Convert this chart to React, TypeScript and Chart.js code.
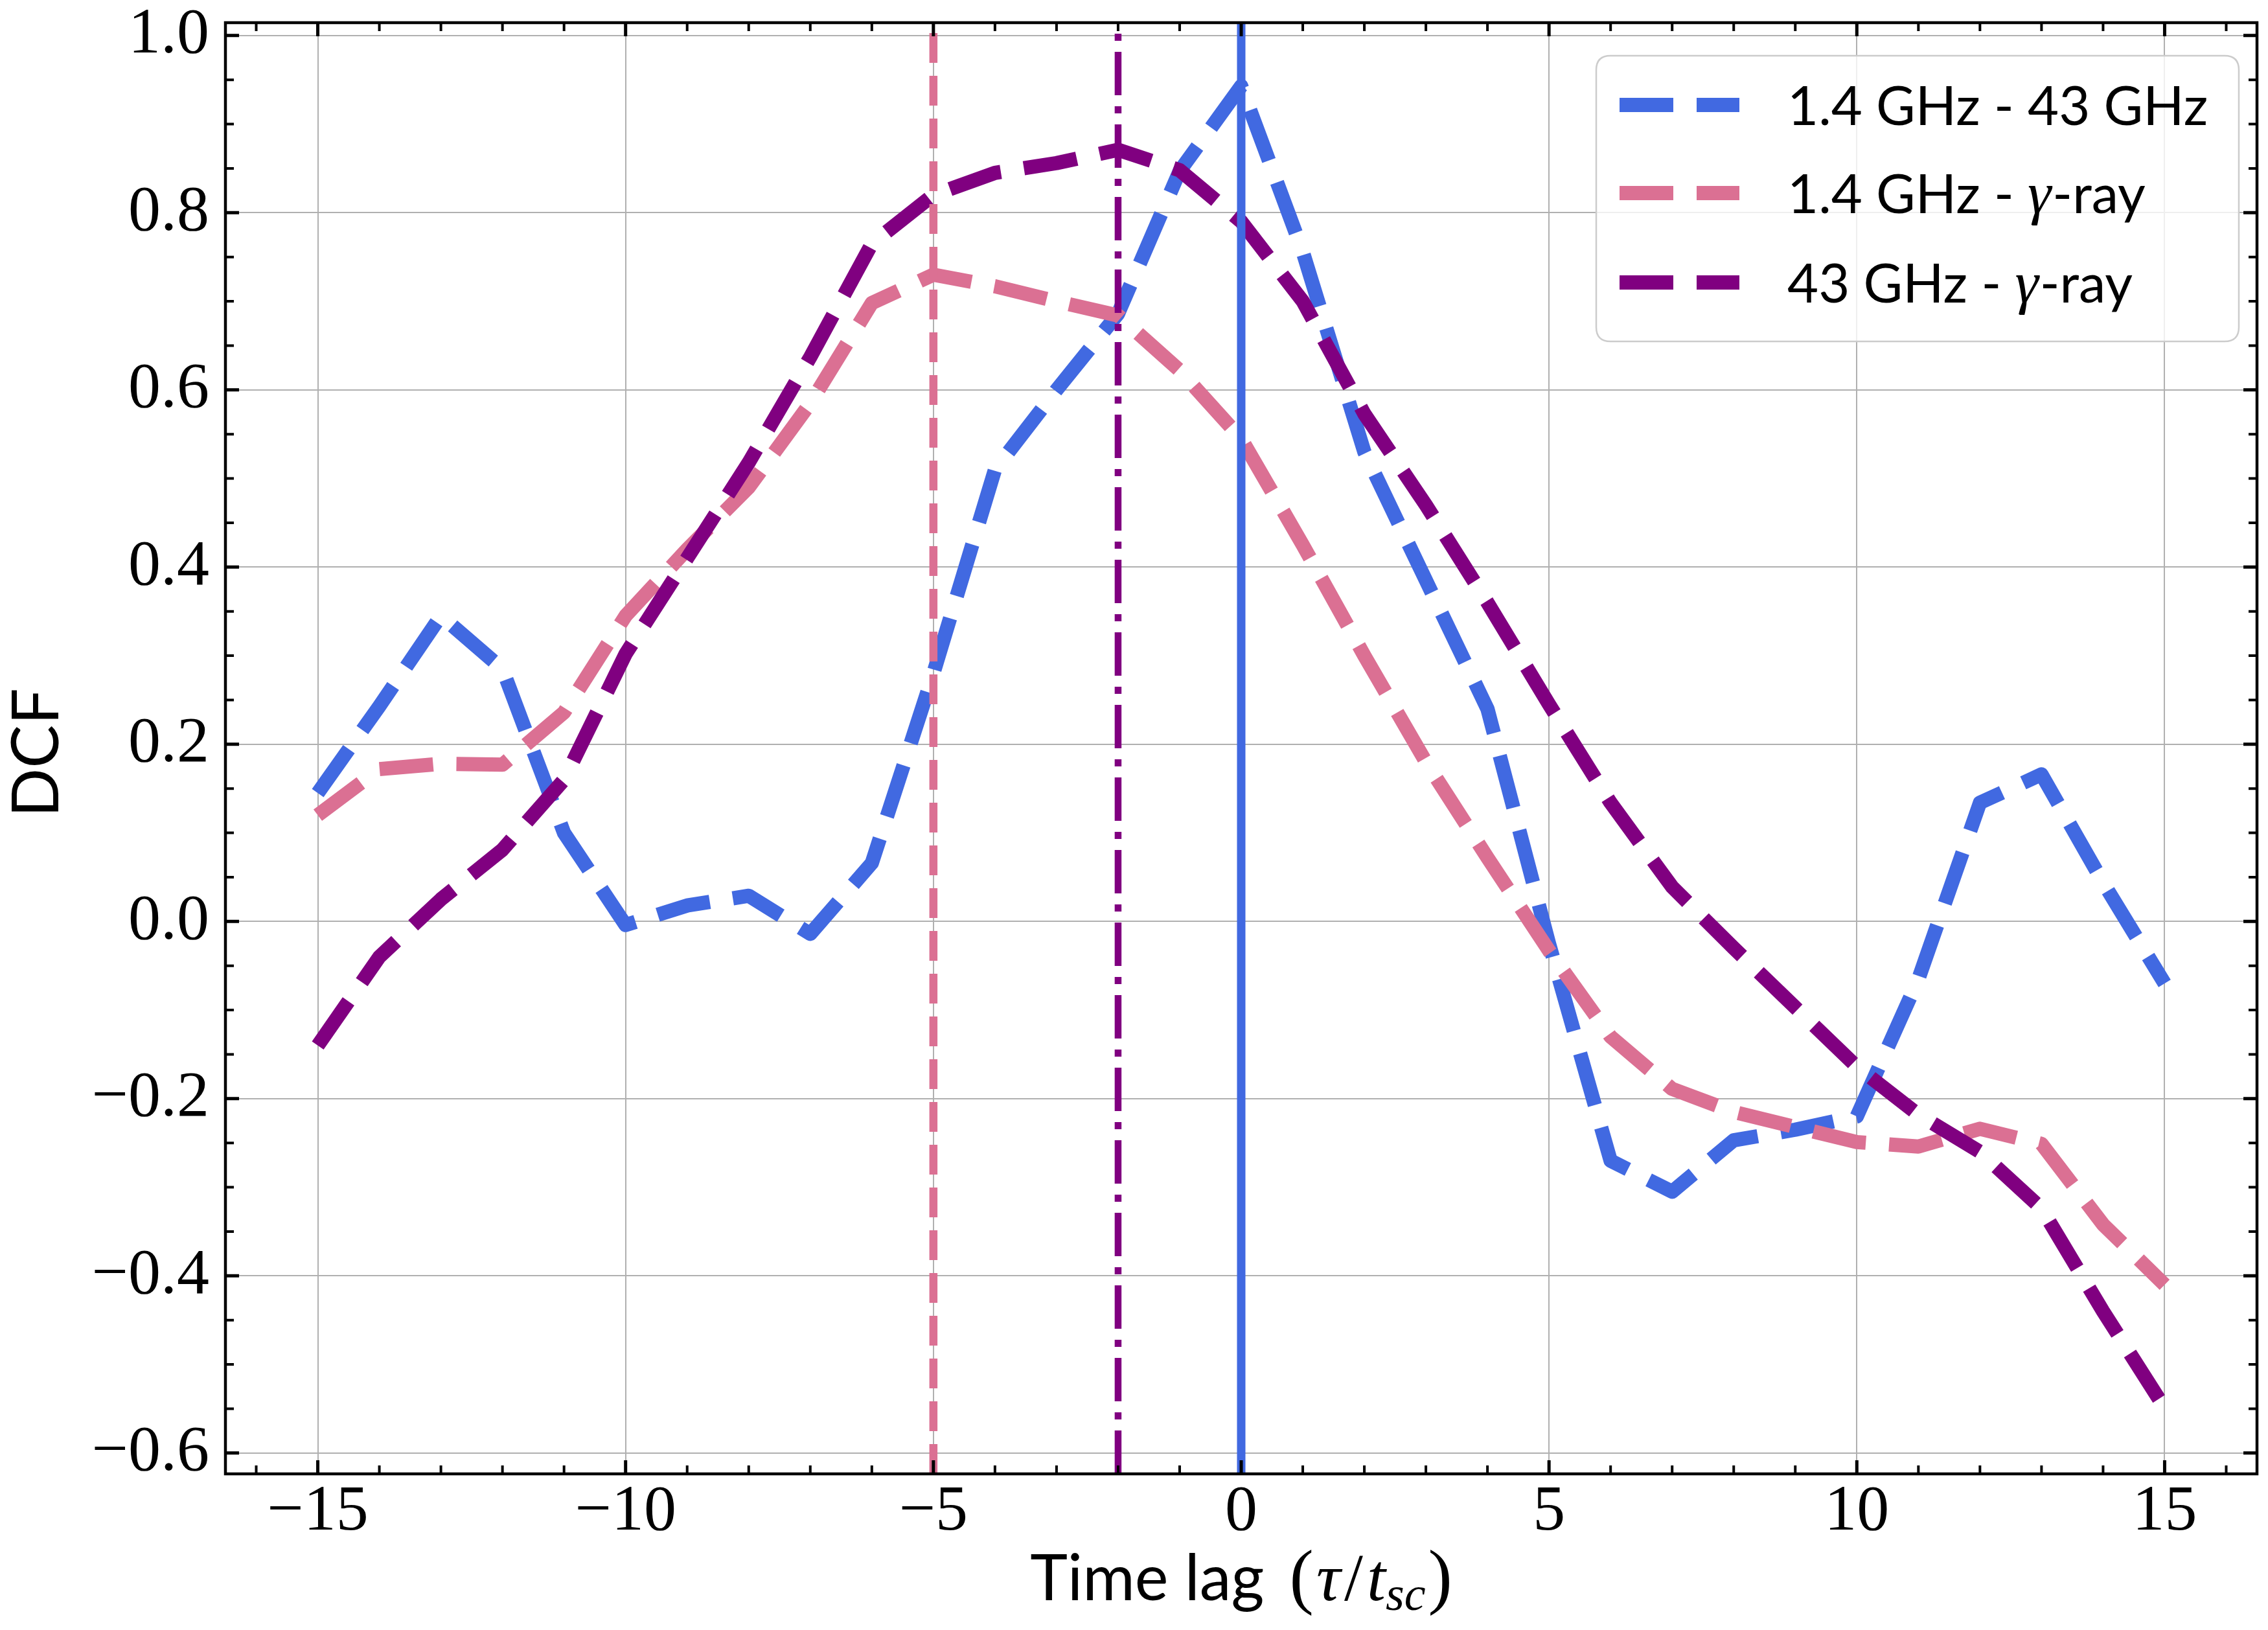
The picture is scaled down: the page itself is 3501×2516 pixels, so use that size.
import React, { useEffect, useRef } from 'react';
import { Chart, registerables } from 'chart.js';

Chart.register(...registerables);

// ---------------- data ----------------
const LAGS = [-15, -14, -13, -12, -11, -10, -9, -8, -7, -6, -5, -4, -3, -2, -1, 0, 1, 2, 3, 4, 5, 6, 7, 8, 9, 10, 11, 12, 13, 14, 15];

const DCF_14_43 = [0.145, 0.243, 0.345, 0.285, 0.10, -0.004, 0.018, 0.029, -0.014, 0.066, 0.28, 0.51, 0.60, 0.686, 0.847, 0.943, 0.756, 0.53, 0.385, 0.24, -0.025, -0.27, -0.305, -0.247, -0.235, -0.22, -0.065, 0.134, 0.166, 0.044, -0.07];

const DCF_14_GAMMA = [0.12, 0.172, 0.178, 0.177, 0.236, 0.345, 0.42, 0.49, 0.585, 0.698, 0.73, 0.717, 0.70, 0.684, 0.622, 0.545, 0.425, 0.30, 0.18, 0.072, -0.033, -0.13, -0.189, -0.215, -0.232, -0.249, -0.254, -0.234, -0.251, -0.342, -0.41];

const DCF_43_GAMMA = [-0.14, -0.04, 0.025, 0.081, 0.16, 0.302, 0.41, 0.518, 0.637, 0.765, 0.82, 0.845, 0.856, 0.871, 0.848, 0.79, 0.70, 0.573, 0.47, 0.36, 0.245, 0.134, 0.039, -0.03, -0.097, -0.164, -0.218, -0.26, -0.324, -0.44, -0.549];

const SERIES_LABELS = ['1.4 GHz - 43 GHz', '1.4 GHz - γ-ray', '43 GHz - γ-ray'];
const SERIES_COLORS = ['#4169E1', '#DB7093', '#800080'];
// lag of the marked DCF peak for each pair (vertical lines)
const PEAK_LAGS = [0, -5, -2];

const X_TICKS = [-15, -10, -5, 0, 5, 10, 15];
const Y_TICKS = [-0.6, -0.4, -0.2, 0.0, 0.2, 0.4, 0.6, 0.8, 1.0];
const X_LIMITS = [-16.5, 16.5];
const Y_LIMITS = [-0.6235, 1.0145];
const X_TITLE = 'Time lag';
const Y_TITLE = 'DCF';

// ---------------- layout / style ----------------
const W = 3501;
const H = 2516;
const AREA = { left: 348, top: 35, right: 3484, bottom: 2275 };
const SANS = 'Lato, "Open Sans", sans-serif';
const SERIF = '"Liberation Serif", "DejaVu Serif", serif';

function fmt(v: number, digits: number) {
  const s = Math.abs(v).toFixed(digits);
  return (v < -1e-9 ? '\u2212' : '') + s;
}

const framePlugin = {
  id: 'mplFrame',
  afterDraw(chart: any) {
    const { ctx, chartArea: a } = chart;
    const xs = chart.scales.x;
    const ys = chart.scales.y;
    ctx.save();
    ctx.strokeStyle = '#000';
    ctx.lineCap = 'butt';

    // x ticks (inward, bottom + top)
    for (let v = Math.ceil(X_LIMITS[0]); v <= Math.floor(X_LIMITS[1]); v++) {
      const major = X_TICKS.includes(v);
      const len = major ? 21 : 13;
      ctx.lineWidth = major ? 5 : 4;
      const px = xs.getPixelForValue(v);
      ctx.beginPath();
      ctx.moveTo(px, a.bottom);
      ctx.lineTo(px, a.bottom - len);
      ctx.moveTo(px, a.top);
      ctx.lineTo(px, a.top + len);
      ctx.stroke();
    }
    // y ticks (inward, left + right)
    for (let k = Math.ceil(Y_LIMITS[0] / 0.05); k <= Math.floor(Y_LIMITS[1] / 0.05); k++) {
      const v = k * 0.05;
      const major = k % 4 === 0;
      const len = major ? 21 : 13;
      ctx.lineWidth = major ? 5 : 4;
      const py = ys.getPixelForValue(v);
      ctx.beginPath();
      ctx.moveTo(a.left, py);
      ctx.lineTo(a.left + len, py);
      ctx.moveTo(a.right, py);
      ctx.lineTo(a.right - len, py);
      ctx.stroke();
    }
    // spines
    ctx.lineWidth = 4.5;
    ctx.strokeRect(a.left, a.top, a.right - a.left, a.bottom - a.top);

    // x title with mixed fonts
    ctx.fillStyle = '#000';
    ctx.textBaseline = 'alphabetic';
    ctx.textAlign = 'left';
    const pieces = [
      { t: X_TITLE + ' ', f: `98px ${SANS}`, dy: 0, gap: 14 },
      { t: '(', f: `112px ${SERIF}`, dy: 0, gap: 4 },
      { t: 'τ', f: `italic 104px ${SERIF}`, dy: 0, gap: 6 },
      { t: '/', f: `104px ${SERIF}`, dy: 0, gap: 6 },
      { t: 't', f: `italic 104px ${SERIF}`, dy: 0, gap: 0 },
      { t: 'sc', f: `italic 74px ${SERIF}`, dy: 15, gap: 4 },
      { t: ')', f: `112px ${SERIF}`, dy: 0, gap: 0 },
    ];
    let total = 0;
    for (const p of pieces) {
      ctx.font = p.f;
      total += ctx.measureText(p.t).width + p.gap;
    }
    let cx = (a.left + a.right) / 2 - total / 2;
    const base = 2470;
    for (const p of pieces) {
      ctx.font = p.f;
      ctx.fillText(p.t, cx, base + p.dy);
      cx += ctx.measureText(p.t).width + p.gap;
    }

    // y title
    ctx.save();
    ctx.translate(90, (a.top + a.bottom) / 2 + 7);
    ctx.rotate(-Math.PI / 2);
    ctx.font = `100px ${SANS}`;
    ctx.textAlign = 'center';
    ctx.fillText(Y_TITLE, 0, 0);
    ctx.restore();

    // legend
    const lx0 = 2464, ly0 = 86, lx1 = 3456, ly1 = 527, r = 22;
    ctx.beginPath();
    ctx.moveTo(lx0 + r, ly0);
    ctx.lineTo(lx1 - r, ly0);
    ctx.quadraticCurveTo(lx1, ly0, lx1, ly0 + r);
    ctx.lineTo(lx1, ly1 - r);
    ctx.quadraticCurveTo(lx1, ly1, lx1 - r, ly1);
    ctx.lineTo(lx0 + r, ly1);
    ctx.quadraticCurveTo(lx0, ly1, lx0, ly1 - r);
    ctx.lineTo(lx0, ly0 + r);
    ctx.quadraticCurveTo(lx0, ly0, lx0 + r, ly0);
    ctx.closePath();
    ctx.fillStyle = 'rgba(255,255,255,0.8)';
    ctx.fill();
    ctx.strokeStyle = '#cccccc';
    ctx.lineWidth = 2.5;
    ctx.stroke();

    const rowY = [162, 298, 436];
    const series = chart.data.datasets.filter((d: any) => d.isSeries);
    series.forEach((d: any, i: number) => {
      const yc = rowY[i];
      ctx.save();
      ctx.strokeStyle = d.borderColor;
      ctx.lineWidth = 22;
      ctx.setLineDash([83, 36]);
      ctx.lineCap = 'butt';
      ctx.beginPath();
      ctx.moveTo(2500, yc);
      ctx.lineTo(2685, yc);
      ctx.stroke();
      ctx.restore();

      const label: string = d.label;
      const parts = label.split('γ');
      let tx = 2759;
      const by = yc + 31;
      ctx.fillStyle = '#000';
      ctx.textAlign = 'left';
      parts.forEach((part, j) => {
        if (j > 0) {
          ctx.font = `italic 92px ${SERIF}`;
          ctx.fillText('γ', tx, by);
          tx += ctx.measureText('γ').width + 2;
        }
        ctx.font = `83px ${SANS}`;
        ctx.fillText(part, tx, by);
        tx += ctx.measureText(part).width;
      });
    });
    ctx.restore();
  },
};

export default function App() {
  const ref = useRef<HTMLCanvasElement | null>(null);

  useEffect(() => {
    document.body.style.margin = '0';
    const canvas = ref.current;
    if (!canvas) return;

    const seriesValues = [DCF_14_43, DCF_14_GAMMA, DCF_43_GAMMA];
    const vStyles = [
      { width: 13, dash: [] as number[] },
      { width: 12.5, dash: [46, 20] },
      { width: 10.5, dash: [67, 17, 11, 17] },
    ];

    const datasets: any[] = [];
    seriesValues.forEach((vals, i) => {
      datasets.push({
        label: SERIES_LABELS[i],
        isSeries: true,
        data: LAGS.map((x, j) => ({ x, y: vals[j] })),
        borderColor: SERIES_COLORS[i],
        backgroundColor: SERIES_COLORS[i],
        borderWidth: 22,
        borderDash: [83, 36],
        borderCapStyle: 'butt',
        borderJoinStyle: 'round',
        pointRadius: 0,
        tension: 0,
        fill: false,
        clip: 0,
        order: 3 - i,
      });
    });
    PEAK_LAGS.forEach((lag, i) => {
      datasets.push({
        label: 'peak ' + SERIES_LABELS[i],
        isSeries: false,
        data: [
          { x: lag, y: Y_LIMITS[0] },
          { x: lag, y: Y_LIMITS[1] },
        ],
        borderColor: SERIES_COLORS[i],
        borderWidth: vStyles[i].width,
        borderDash: vStyles[i].dash,
        borderCapStyle: 'butt',
        pointRadius: 0,
        fill: false,
        clip: 0,
        order: 0,
      });
    });

    const chart = new Chart(canvas, {
      type: 'line',
      data: { datasets },
      plugins: [framePlugin],
      options: {
        responsive: false,
        animation: false,
        devicePixelRatio: 1,
        layout: { padding: { left: 0, top: AREA.top, right: W - AREA.right, bottom: 0 } },
        plugins: { legend: { display: false }, tooltip: { enabled: false } },
        scales: {
          x: {
            type: 'linear',
            position: 'bottom',
            min: X_LIMITS[0],
            max: X_LIMITS[1],
            afterBuildTicks: (s: any) => {
              s.ticks = X_TICKS.map((v) => ({ value: v }));
            },
            afterFit: (s: any) => {
              s.height = H - AREA.bottom;
              s.paddingLeft = 0;
              s.paddingRight = 0;
              s.paddingTop = 0;
              s.paddingBottom = 0;
            },
            ticks: {
              autoSkip: false,
              maxRotation: 0,
              padding: 0,
              color: '#000',
              font: { family: SERIF, size: 100 },
              callback: (v: any) => fmt(Number(v), 0),
            },
            grid: { color: '#b0b0b0', lineWidth: 2, drawTicks: false },
            border: { display: false },
          },
          y: {
            type: 'linear',
            position: 'left',
            min: Y_LIMITS[0],
            max: Y_LIMITS[1],
            afterBuildTicks: (s: any) => {
              s.ticks = Y_TICKS.map((v) => ({ value: v }));
            },
            afterFit: (s: any) => {
              s.width = AREA.left;
              s.paddingLeft = 0;
              s.paddingRight = 0;
              s.paddingTop = 0;
              s.paddingBottom = 0;
            },
            ticks: {
              autoSkip: false,
              padding: 25,
              color: '#000',
              font: { family: SERIF, size: 100 },
              callback: (v: any) => fmt(Number(v), 1),
            },
            grid: { color: '#b0b0b0', lineWidth: 2, drawTicks: false },
            border: { display: false },
          },
        },
      } as any,
    });

    return () => {
      chart.destroy();
    };
  }, []);

  return (
    <div style={{ position: 'absolute', left: 0, top: 0, width: W, height: H, background: '#fff' }}>
      <canvas ref={ref} width={W} height={H} style={{ width: W, height: H, display: 'block' }} />
    </div>
  );
}
